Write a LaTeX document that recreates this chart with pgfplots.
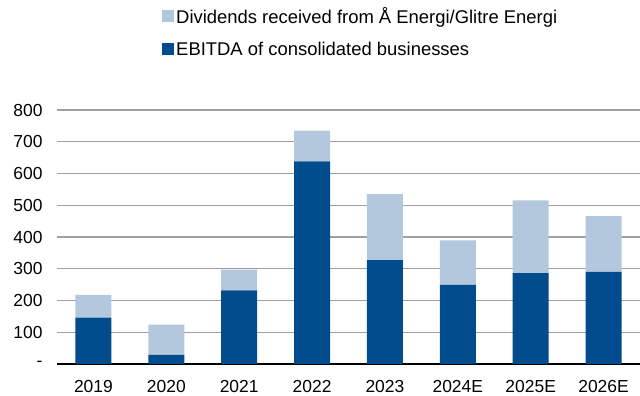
\documentclass[border=0pt]{standalone}
\usepackage{pgfplots}
\pgfplotsset{compat=1.18}
\usepackage{fontspec}
\setmainfont{Liberation Sans}
\definecolor{darkblue}{RGB}{0,76,140}
\definecolor{lightblue}{RGB}{179,200,220}
\definecolor{gridgray}{RGB}{160,160,160}
\begin{document}
\begin{tikzpicture}
\useasboundingbox (0,0) rectangle (640bp,396bp);
\begin{axis}[
  at={(57bp,32bp)}, anchor=south west,
  scale only axis, width=583bp, height=254bp,
  ymin=0, ymax=800, xmin=-0.5, xmax=7.5,
  ybar stacked, bar width=36bp,
  axis lines=left,
  y axis line style={draw=none},
  x axis line style={black, line width=1.3bp, -},
  major tick length=0pt,
  ytick={0,100,...,800},
  yticklabels={-,100,200,300,400,500,600,700,800},
  xtick=data,
  xticklabels={2019,2020,2021,2022,2023,2024E,2025E,2026E},
  ymajorgrids, grid style={gridgray, line width=1.2bp},
  /pgf/number format/assume math mode=true,
  tick label style={font=\fontsize{17.5}{20}\selectfont},
  yticklabel style={xshift=-11bp},
  xticklabel style={yshift=-13bp},
  reverse legend,
  legend style={at={(0.175,1.42)}, anchor=north west, draw=none, fill=none,
    font=\fontsize{18.5}{21}\selectfont, row sep=13bp, nodes={inner xsep=2bp}},
  legend cell align=left,
]
\addplot[fill=darkblue, draw=none, legend image code/.code={\fill[darkblue] (0bp,-6bp) rectangle (12bp,6bp);}]
  coordinates {(0,146)(1,29)(2,232)(3,638)(4,327)(5,249)(6,286)(7,290)};
\addlegendentry{EBITDA of consolidated businesses}
\addplot[fill=lightblue, draw=none, legend image code/.code={\fill[lightblue] (0bp,-6bp) rectangle (12bp,6bp);}]
  coordinates {(0,72)(1,95)(2,65)(3,97)(4,208)(5,140)(6,229)(7,176)};
\addlegendentry{Dividends received from Å Energi/Glitre Energi}
\end{axis}
\end{tikzpicture}
\end{document}
